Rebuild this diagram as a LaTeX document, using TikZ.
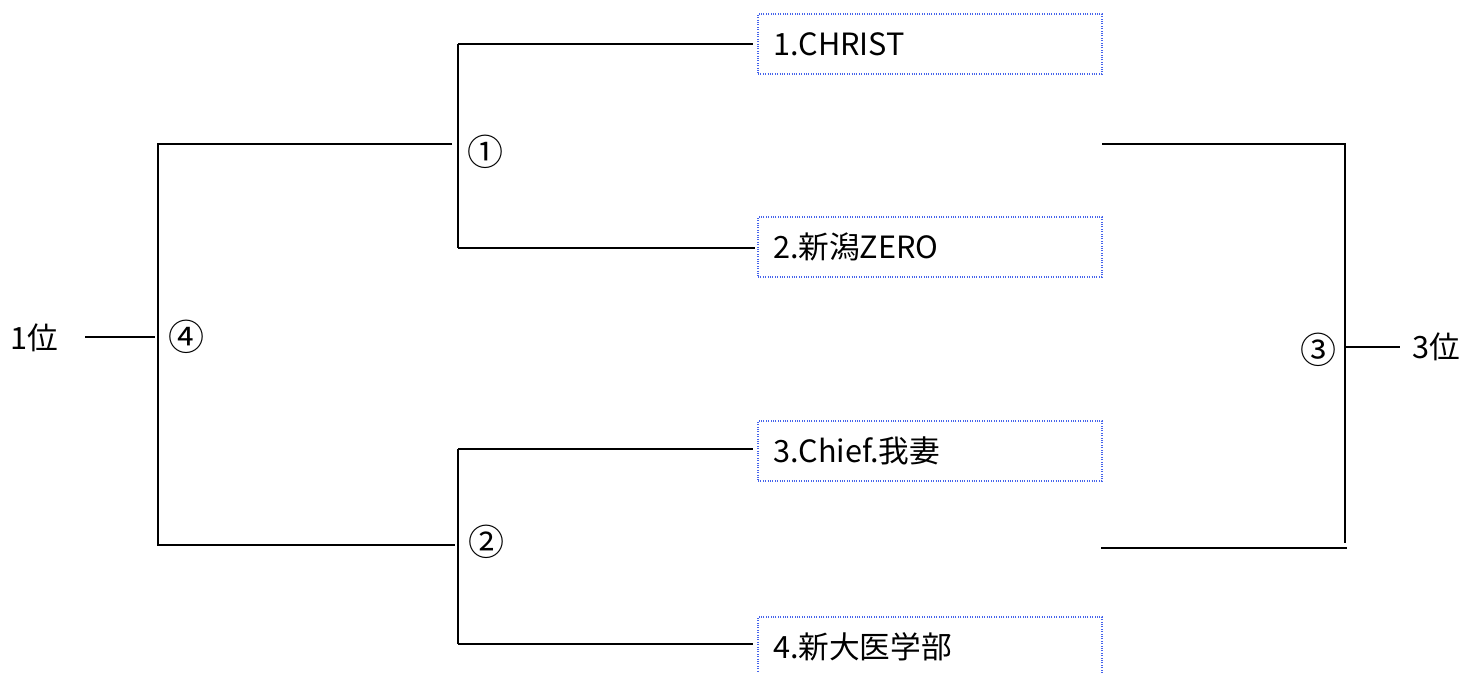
\documentclass[tikz,border=0pt]{standalone}
\usepackage{fontspec}
\setmainfont{Noto Sans CJK JP}
\begin{document}
\begin{tikzpicture}[x=0.75pt,y=-0.75pt,
  line/.style={line width=1.9pt, black},
  team/.style={draw={rgb,255:red,70;green,100;blue,235}, densely dotted, line width=0.8pt,
    minimum height=45pt, text width=235.5pt, inner xsep=11.25pt, inner ysep=0pt, align=left,
    font=\fontsize{23}{26}\selectfont},
  lbl/.style={font=\fontsize{23}{26}\selectfont, inner sep=0pt},
  circ/.style={font=\fontsize{27}{30}\selectfont, inner sep=0pt}]
\useasboundingbox (0,0) rectangle (1478,673);
\clip (0,0) rectangle (1478,673);
% team boxes
\node[team] (t1) at (930,44) {1.CHRIST};
\node[team] (t2) at (930,247) {2.新潟ZERO};
\node[team] (t3) at (930,451) {3.Chief.我妻};
\node[team] (t4) at (930,647) {4.新大医学部};
% labels
\node[circ] (n1) at (485,152) {①};
\node[circ] (n2) at (486,542) {②};
\node[circ] (n3) at (1318,350) {③};
\node[circ] (n4) at (186,337) {④};
\node[lbl, anchor=west] (p1) at (10,338) {1位};
\node[lbl, anchor=west] (p3) at (1412,347) {3位};
% coordinates
\coordinate (a1) at (458,44);
\coordinate (a2) at (458,248);
\coordinate (b1) at (458,449);
\coordinate (b2) at (458,644);
\coordinate (m1) at (452,144);
\coordinate (m2) at (455,545);
\coordinate (L1) at (158,144);
\coordinate (L2) at (158,545);
\coordinate (w1) at (85,337);
\coordinate (w2) at (155,337);
\coordinate (r1) at (1102,144);
\coordinate (r2) at (1345,144);
\coordinate (r3) at (1345,543);
\coordinate (r4) at (1101,548);
\coordinate (r5) at (1347,548);
\coordinate (s1) at (1345,347);
\coordinate (s2) at (1400,347);
% bracket 1
\draw[line] (a1) -- (a2);
\draw[line, shorten >=3pt] (a1) -- (a1 -| t1.west);
\draw[line, shorten >=2pt] (a2) -- (a2 -| t2.west);
% bracket 2
\draw[line] (b1) -- (b2);
\draw[line, shorten >=3pt] (b1) -- (b1 -| t3.west);
\draw[line, shorten >=3pt] (b2) -- (b2 -| t4.west);
% final bracket
\draw[line] (m1) -- (L1) -- (L2) -- (m2);
\draw[line] (w1) -- (w2);
% third place bracket
\draw[line] (r1) -- (r2) -- (r3);
\draw[line] (r4) -- (r5);
\draw[line] (s1) -- (s2);
\end{tikzpicture}
\end{document}
